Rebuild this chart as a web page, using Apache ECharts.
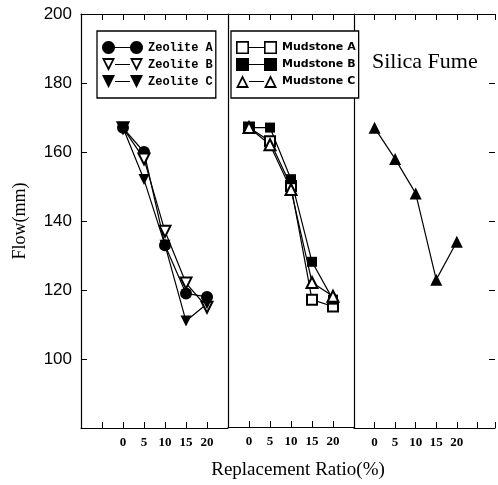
<!DOCTYPE html>
<html>
<head>
<meta charset="utf-8">
<script src="https://cdn.jsdelivr.net/npm/echarts@6/dist/echarts.min.js"></script>
<style>
  html, body { margin: 0; padding: 0; background: #fff; }
  #chart { width: 498px; height: 485px; }
</style>
</head>
<body>
<div id="chart"></div>
<script>
// replacement ratio (%)
const ratios = [0, 5, 10, 15, 20];
const yTicks = [100, 120, 140, 160, 180, 200];

// flow (mm)
const zeoliteA = [167, 160, 133, 119, 118];
const zeoliteB = [167, 158, 137, 122, 115];
const zeoliteC = [167, 152, 133, 111, 116];
const mudstoneA = [167, 163, 150, 117, 115];
const mudstoneB = [167, 167, 152, 128, 117];
const mudstoneC = [167, 162, 149, 122, 118];
const silicaFume = [167, 158, 148, 123, 134];

const pairs = vals => ratios.map((r, i) => [r, vals[i]]);

// legend icon: marker — line — marker, drawn as one path (holes by reversed winding)
function shapePts(shape, cx, cy, r) {
  if (shape === 'circle') {
    const p = [];
    for (let i = 0; i < 24; i++) {
      const a = i / 24 * Math.PI * 2;
      p.push([cx + r * Math.cos(a), cy + r * Math.sin(a)]);
    }
    return p;
  }
  if (shape === 'square') return [[cx - r, cy - r], [cx + r, cy - r], [cx + r, cy + r], [cx - r, cy + r]];
  if (shape === 'down') return [[cx - r, cy - r], [cx + r, cy - r], [cx, cy + r]];
  return [[cx, cy - r], [cx + r, cy + r], [cx - r, cy + r]];
}
function toPath(pts) {
  return 'M' + pts.map(p => p[0].toFixed(2) + ',' + p[1].toFixed(2)).join(' L') + ' Z ';
}
function marker(shape, hollow, cx, cy, r) {
  const outer = shapePts(shape, cx, cy, r);
  let d = toPath(outer);
  if (hollow) {
    const c = [outer.reduce((s, p) => s + p[0], 0) / outer.length, outer.reduce((s, p) => s + p[1], 0) / outer.length];
    const k = shape === 'circle' || shape === 'square' ? 0.75 : 0.55;
    const inner = outer.map(p => [c[0] + (p[0] - c[0]) * k, c[1] + (p[1] - c[1]) * k]).reverse();
    d += toPath(inner);
  }
  return d;
}
function legendIcon(shape, hollow) {
  const r = 6.5;
  return 'path://' + marker(shape, hollow, 6.5, 6.5, r) +
    'M13,5.9 L28,5.9 L28,7.1 L13,7.1 Z ' + marker(shape, hollow, 34.5, 6.5, r);
}

const serif = '"Liberation Serif", "DejaVu Serif", serif';

function lineSeries(name, vals, symbol, size, rotate, gi) {
  return {
    name: name,
    type: 'line',
    xAxisIndex: gi * 2,
    yAxisIndex: gi,
    data: pairs(vals),
    symbol: symbol,
    symbolSize: size,
    symbolRotate: rotate,
    lineStyle: { color: '#000', width: 1.2 },
    itemStyle: { color: '#000' },
    emphasis: { disabled: true },
    animation: false
  };
}

function xAxes(gi, min, max) {
  const common = {
    type: 'value', gridIndex: gi, min: min, max: max, interval: 5,
    axisLine: { show: true, onZero: false, lineStyle: { color: '#000', width: 1.2 } },
    axisTick: { show: true, inside: true, length: 6, lineStyle: { color: '#000' } },
    splitLine: { show: false }
  };
  return [
    Object.assign({}, common, {
      position: 'bottom',
      axisLabel: {
        margin: 8, color: '#000', fontFamily: serif, fontWeight: 'bold', fontSize: 13,
        formatter: v => (v >= 0 && v <= 20 ? String(v) : '')
      }
    }),
    Object.assign({}, common, { position: 'top', axisLabel: { show: false } })
  ];
}

function yAxis(gi, extra) {
  return Object.assign({
    type: 'value', gridIndex: gi, min: 80, max: 200, interval: 20,
    axisLine: { show: true, onZero: false, lineStyle: { color: '#000', width: 1.2 } },
    axisTick: { show: false }, axisLabel: { show: false }, splitLine: { show: false }
  }, extra || {});
}

const legendBox = {
  orient: 'vertical',
  top: 31,
  padding: [10, 3, 10, 5],
  itemWidth: 41,
  itemHeight: 13,
  itemGap: 4,
  selectedMode: false,
  backgroundColor: '#fff',
  borderColor: '#000',
  borderWidth: 1.3,
  borderRadius: 0
};
const legendItem = (name, shape, hollow) => ({
  name: name,
  icon: legendIcon(shape, hollow),
  itemStyle: { color: '#000', borderWidth: 0 }
});

const option = {
  backgroundColor: '#fff',
  animation: false,
  grid: [
    { left: 81, top: 14, width: 147, bottom: 57 },
    { left: 228, top: 14, width: 126, bottom: 57 },
    { left: 354, top: 14, right: 0, bottom: 57 }
  ],
  title: {
    text: 'Silica Fume',
    left: 372,
    top: 51,
    padding: 0,
    textStyle: { fontFamily: serif, fontWeight: 'normal', fontSize: 22, color: '#000' }
  },
  legend: [
    Object.assign({}, legendBox, {
      left: 97,
      textStyle: { fontFamily: '"Liberation Mono", monospace', fontWeight: 'bold', fontSize: 12, color: '#000' },
      data: [
        legendItem('Zeolite A', 'circle', false),
        legendItem('Zeolite B', 'down', true),
        legendItem('Zeolite C', 'down', false)
      ]
    }),
    Object.assign({}, legendBox, {
      left: 231,
      textStyle: { fontFamily: '"DejaVu Sans", sans-serif', fontWeight: 'bold', fontSize: 11, color: '#000' },
      data: [
        legendItem('Mudstone A', 'square', true),
        legendItem('Mudstone B', 'square', false),
        legendItem('Mudstone C', 'up', true)
      ]
    })
  ],
  xAxis: [].concat(
    xAxes(0, -10, 25),
    xAxes(1, -5, 25).map((a, i) => i === 0 ? Object.assign(a, {
      name: 'Replacement Ratio(%)',
      nameLocation: 'middle',
      nameGap: 34,
      nameTextStyle: { fontFamily: serif, fontSize: 19, color: '#000', padding: [0, 0, 0, 14] }
    }) : a),
    xAxes(2, -5, 29.29)
  ),
  yAxis: [
    yAxis(0, {
      name: 'Flow(mm)',
      nameLocation: 'middle',
      nameGap: 52,
      nameTextStyle: { fontFamily: serif, fontSize: 18, color: '#000' },
      axisTick: { show: true, inside: true, length: 6, lineStyle: { color: '#000' } },
      axisLabel: {
        margin: 9, color: '#000', fontFamily: '"Liberation Sans", Arial, sans-serif', fontSize: 17,
        formatter: v => (yTicks.indexOf(v) >= 0 ? String(v) : '')
      }
    }),
    yAxis(1),
    yAxis(2),
    yAxis(2, {
      position: 'right',
      axisLine: { show: false, onZero: false },
      axisTick: { show: true, inside: true, length: 6, lineStyle: { color: '#000' } }
    })
  ],
  series: [
    lineSeries('Zeolite A', zeoliteA, 'circle', 12, 0, 0),
    lineSeries('Zeolite B', zeoliteB, 'emptyTriangle', 11, 180, 0),
    lineSeries('Zeolite C', zeoliteC, 'triangle', 11, 180, 0),
    lineSeries('Mudstone A', mudstoneA, 'emptyRect', 10, 0, 1),
    lineSeries('Mudstone B', mudstoneB, 'rect', 10, 0, 1),
    lineSeries('Mudstone C', mudstoneC, 'emptyTriangle', 11, 0, 1),
    lineSeries('Silica Fume', silicaFume, 'triangle', 12, 0, 2)
  ]
};

const chart = echarts.init(document.getElementById('chart'));
chart.setOption(option);
</script>
</body>
</html>
